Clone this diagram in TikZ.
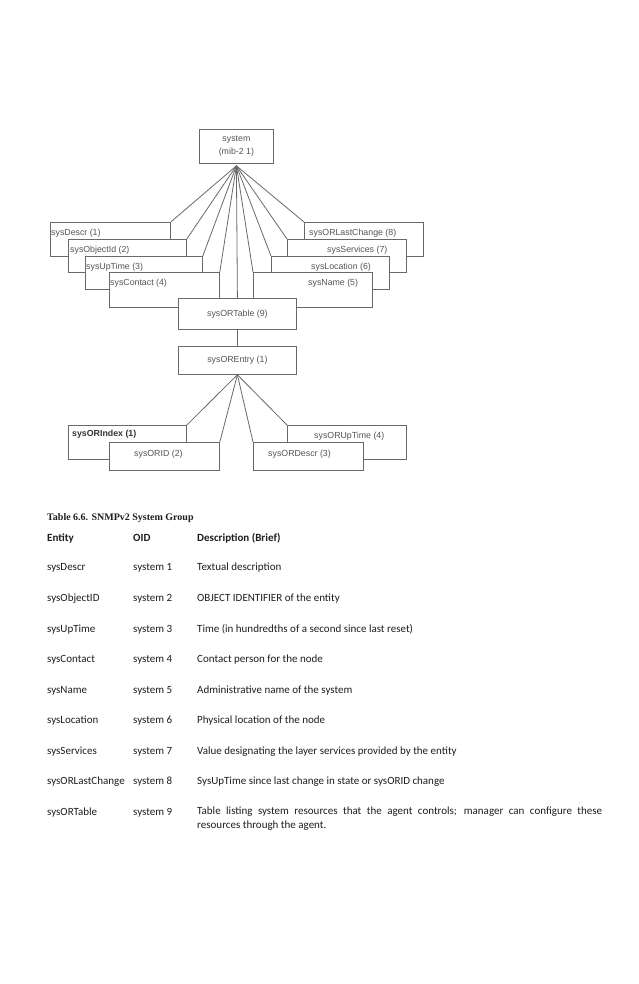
\documentclass[tikz,border=0pt]{standalone}
\usepackage{fontspec}
\setmainfont{Liberation Sans}
\newfontfamily\carl{Carlito}
\newfontfamily\tms{Liberation Serif}
\definecolor{linegray}{RGB}{105,105,105}
\definecolor{txtgray}{RGB}{85,85,85}
\definecolor{tabtxt}{RGB}{30,30,30}
\newcommand\dgfont{\fontsize{8.8}{13}\selectfont}
\newcommand\tbfont{\carl\fontsize{11}{13.3}\selectfont}
\begin{document}
\begin{tikzpicture}[x=1pt,y=-1pt,
  box/.style={draw=linegray, fill=white, line width=0.8pt, inner sep=0pt, rectangle, anchor=north west, font=\dgfont, text=txtgray, align=center},
  conn/.style={draw=linegray, line width=0.8pt},
  lbl/.style={font=\dgfont, text=txtgray, inner sep=0pt, anchor=west},
  ttl/.style={font=\tms\bfseries\fontsize{10}{12}\selectfont, text=tabtxt, inner sep=0pt, anchor=base west},
  hdr/.style={font=\tbfont\bfseries, text=tabtxt, inner sep=0pt, anchor=base west},
  cell/.style={font=\tbfont, text=tabtxt, inner sep=0pt, anchor=base west}]
\fill[white] (0,0) rectangle (638,984);
\useasboundingbox (0,0) rectangle (638,984);

% root
\node[box, minimum width=74pt, minimum height=34pt] (sys) at (199,129) {system\\(mib-2 1)};
\coordinate (hub) at ([yshift=-2pt]sys.south);

% left stack
\node[box, minimum width=120pt, minimum height=34pt] (descr) at (50,222) {};
\node[box, minimum width=118pt, minimum height=33pt] (objid) at (68,239) {};
\node[box, minimum width=117pt, minimum height=33pt] (uptime) at (85,256) {};
\node[box, minimum width=110pt, minimum height=35pt] (contact) at (109,272) {};
% right stack
\node[box, minimum width=119pt, minimum height=34pt] (lastch) at (304,222) {};
\node[box, minimum width=119pt, minimum height=33pt] (serv) at (287,239) {};
\node[box, minimum width=118pt, minimum height=33pt] (loc) at (271,256) {};
\node[box, minimum width=119pt, minimum height=35pt] (name) at (253,272) {};
% table / entry
\node[box, minimum width=118pt, minimum height=31pt] (ortable) at (178,298) {sysORTable (9)};
\node[box, minimum width=118pt, minimum height=28pt] (orentry) at (178,346) {sysOREntry (1)};
\coordinate (hub2) at (orentry.south);

% bottom boxes
\node[box, minimum width=118pt, minimum height=34pt] (orindex) at (68,425) {};
\node[box, minimum width=110pt, minimum height=28pt] (orid) at (109,442) {};
\node[box, minimum width=119pt, minimum height=34pt] (orup) at (287,425) {};
\node[box, minimum width=110pt, minimum height=28pt] (ordescr) at (253,442) {};

% labels
\node[lbl] (tdescr) at (51,233) {sysDescr (1)};
\node[lbl] (tobjid) at (70,250) {sysObjectId (2)};
\node[lbl] (tuptime) at (86,267) {sysUpTime (3)};
\node[lbl] (tcontact) at (110,283) {sysContact (4)};
\node[lbl] (tlast) at (309,233) {sysORLastChange (8)};
\node[lbl] (tserv) at (327,250) {sysServices (7)};
\node[lbl] (tloc) at (311,267) {sysLocation (6)};
\node[lbl] (tname) at (308,283) {sysName (5)};
\node[lbl, font=\dgfont\bfseries, text=black!80] (tindex) at (72,434) {sysORIndex (1)};
\node[lbl] (torid) at (134,454) {sysORID (2)};
\node[lbl] (torup) at (314,436) {sysORUpTime (4)};
\node[lbl] (tordescr) at (268,454) {sysORDescr (3)};

% connectors
\draw[conn] (hub) -- (descr.north east);
\draw[conn] (hub) -- (objid.north east);
\draw[conn] (hub) -- (uptime.north east);
\draw[conn] (hub) -- (contact.north east);
\draw[conn] (hub) -- (ortable.north);
\draw[conn] (hub) -- (name.north west);
\draw[conn] (hub) -- (loc.north west);
\draw[conn] (hub) -- (serv.north west);
\draw[conn] (hub) -- (lastch.north west);
\draw[conn] (ortable) -- (orentry);
\draw[conn] (hub2) -- (orindex.north east);
\draw[conn] (hub2) -- (orid.north east);
\draw[conn] (hub2) -- (ordescr.north west);
\draw[conn] (hub2) -- (orup.north west);

% table
\node[ttl] (title) at (47,520) {Table 6.6. SNMPv2 System Group};
\node[hdr] (hent) at (47,541) {Entity};
\node[hdr] (hoid) at (133,541) {OID};
\node[hdr] (hdesc) at (197,541) {Description (Brief)};

\node[cell] (e1) at (47,570) {sysDescr};
\node[cell] (o1) at (133,570) {system 1};
\node[cell] (d1) at (197,570) {Textual description};

\node[cell] (e2) at (47,601) {sysObjectID};
\node[cell] (o2) at (133,601) {system 2};
\node[cell] (d2) at (197,601) {OBJECT IDENTIFIER of the entity};

\node[cell] (e3) at (47,632) {sysUpTime};
\node[cell] (o3) at (133,632) {system 3};
\node[cell] (d3) at (197,632) {Time (in hundredths of a second since last reset)};

\node[cell] (e4) at (47,662) {sysContact};
\node[cell] (o4) at (133,662) {system 4};
\node[cell] (d4) at (197,662) {Contact person for the node};

\node[cell] (e5) at (47,693) {sysName};
\node[cell] (o5) at (133,693) {system 5};
\node[cell] (d5) at (197,693) {Administrative name of the system};

\node[cell] (e6) at (47,723) {sysLocation};
\node[cell] (o6) at (133,723) {system 6};
\node[cell] (d6) at (197,723) {Physical location of the node};

\node[cell] (e7) at (47,754) {sysServices};
\node[cell] (o7) at (133,754) {system 7};
\node[cell] (d7) at (197,754) {Value designating the layer services provided by the entity};

\node[cell] (e8) at (47,784) {sysORLastChange};
\node[cell] (o8) at (133,784) {system 8};
\node[cell] (d8) at (197,784) {SysUpTime since last change in state or sysORID change};

\node[cell] (e9) at (47,815) {sysORTable};
\node[cell] (o9) at (133,815) {system 9};
\node[cell, anchor=north west, text width=405pt, align=justify] (d9) at (197,807) {Table listing system resources that the agent controls; manager can configure these \mbox{resources} through the agent.};
\end{tikzpicture}
\end{document}
